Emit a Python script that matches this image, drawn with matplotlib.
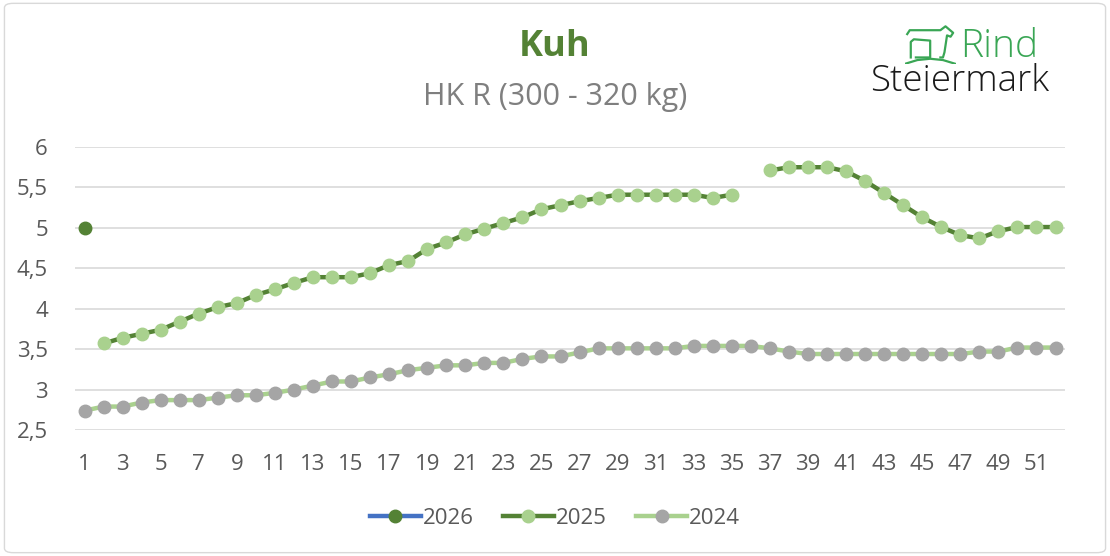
import numpy as np
import matplotlib
matplotlib.use("Agg")
import matplotlib.pyplot as plt
from matplotlib.patches import FancyBboxPatch
from matplotlib.ticker import FuncFormatter

# Wochen und Preise je Jahr (None = kein Wert)
weeks = list(range(1, 53))

price_2026 = [5.00] + [None] * 51

price_2025 = [None, 3.57, 3.64, 3.69, 3.74, 3.84, 3.94, 4.02, 4.07, 4.17,
              4.24, 4.32, 4.39, 4.39, 4.39, 4.44, 4.54, 4.59, 4.74, 4.82,
              4.92, 4.99, 5.06, 5.13, 5.23, 5.28, 5.33, 5.37, 5.41, 5.41,
              5.41, 5.41, 5.41, 5.37, 5.41, None, 5.71, 5.75, 5.75, 5.75,
              5.70, 5.58, 5.43, 5.28, 5.13, 5.01, 4.91, 4.87, 4.96, 5.01,
              5.01, 5.01]

price_2024 = [2.74, 2.79, 2.79, 2.84, 2.87, 2.87, 2.87, 2.90, 2.93, 2.93,
              2.96, 3.00, 3.05, 3.10, 3.10, 3.15, 3.19, 3.24, 3.27, 3.30,
              3.30, 3.33, 3.33, 3.38, 3.41, 3.41, 3.46, 3.51, 3.51, 3.51,
              3.51, 3.51, 3.54, 3.54, 3.54, 3.54, 3.51, 3.47, 3.44, 3.44,
              3.44, 3.44, 3.44, 3.44, 3.44, 3.44, 3.44, 3.47, 3.47, 3.52,
              3.52, 3.52]

y_ticks = [2.5, 3, 3.5, 4, 4.5, 5, 5.5, 6]
x_ticks = list(range(1, 53, 2))

DARK_GREEN = "#548235"
LIGHT_GREEN = "#A9D18E"
GREY = "#A5A5A5"
BLUE = "#4472C4"
TEXT = "#595959"
LOGO_GREEN = "#3AA655"

plt.rcParams['font.family'] = ['Open Sans', 'DejaVu Sans']


def to_arr(values):
    return np.array([np.nan if v is None else v for v in values], dtype=float)


def main():
    fig = plt.figure(figsize=(11.1, 5.56), dpi=100)

    # Rahmen um das Diagramm
    border = FancyBboxPatch((0.004, 0.006), 0.992, 0.988,
                            boxstyle="round,pad=0,rounding_size=0.008",
                            transform=fig.transFigure, facecolor="none",
                            edgecolor="#D9D9D9", linewidth=1.0, zorder=0)
    fig.patches.append(border)

    ax = fig.add_axes([0.0676, 0.2266, 0.8919, 0.509])
    ax.set_facecolor("none")

    ax.plot(weeks, to_arr(price_2024), color=LIGHT_GREEN, linewidth=3.2,
            marker="o", markersize=9, markerfacecolor=GREY,
            markeredgecolor=GREY, label="2024", zorder=3)
    ax.plot(weeks, to_arr(price_2025), color=DARK_GREEN, linewidth=3.2,
            marker="o", markersize=9, markerfacecolor=LIGHT_GREEN,
            markeredgecolor=LIGHT_GREEN, label="2025", zorder=4)
    ax.plot(weeks, to_arr(price_2026), color=BLUE, linewidth=3.2,
            marker="o", markersize=9, markerfacecolor=DARK_GREEN,
            markeredgecolor=DARK_GREEN, label="2026", zorder=5)

    ax.set_xlim(0.5, 52.5)
    ax.set_ylim(2.5, 6)
    ax.set_yticks(y_ticks)
    ax.set_xticks(x_ticks)
    ax.yaxis.set_major_formatter(
        FuncFormatter(lambda v, p: f"{v:g}".replace(".", ",")))
    ax.grid(axis="y", color="#D9D9D9", linewidth=1.2)
    ax.set_axisbelow(True)
    for s in ax.spines.values():
        s.set_visible(False)
    ax.tick_params(length=0, labelsize=16, colors=TEXT)
    ax.tick_params(axis="x", pad=17)
    ax.tick_params(axis="y", pad=19.5)

    # Titel
    fig.text(0.5, 0.916, "Kuh", ha="center", va="center", fontsize=26,
             fontweight="bold", color=DARK_GREEN)
    fig.text(0.5, 0.826, "HK R (300 - 320 kg)", ha="center", va="center",
             fontsize=22, color="#7F7F7F")

    # Logo
    fig.text(0.865, 0.916, "Rind", ha="left", va="center", fontsize=28,
             color=LOGO_GREEN, fontweight="light")
    fig.text(0.784, 0.853, "Steiermark", ha="left", va="center",
             fontsize=26.5, color="#1A1A1A", fontweight="light")
    lx = fig.add_axes([0.815, 0.885, 0.046, 0.07])
    lx.set_xlim(0, 10)
    lx.set_ylim(0, 6)
    lx.axis("off")
    cow_x = [0.5, 1.0, 7.0, 8.0, 9.5, 9.0, 8.3, 7.8, 7.5, 7.0]
    cow_y = [4.6, 5.2, 5.2, 5.8, 4.8, 4.2, 4.4, 1.8, 1.0, 1.0]
    lx.plot(cow_x, cow_y, color=LOGO_GREEN, linewidth=1.6,
            solid_joinstyle="round")
    calf_x = [1.2, 1.2, 1.8, 5.0, 5.0, 2.2]
    calf_y = [1.0, 3.4, 3.8, 3.6, 1.0, 1.0]
    lx.plot(calf_x, calf_y, color=LOGO_GREEN, linewidth=1.6)
    gx = np.array([0.0, 2.5, 5.0, 7.5, 10.0])
    gy = np.array([0.0, 0.6, 0.8, 0.6, 0.0])
    lx.plot(gx, gy, color=LOGO_GREEN, linewidth=1.6)

    # Legende
    handles, labels = ax.get_legend_handles_labels()
    order = [2, 1, 0]
    fig.legend([handles[i] for i in order], [labels[i] for i in order],
               loc="center", bbox_to_anchor=(0.5, 0.067), ncol=3,
               frameon=False, fontsize=16, labelcolor=TEXT,
               handlelength=2.3, handletextpad=0.1, columnspacing=1.3)

    fig.savefig("out.png", dpi=100)


if __name__ == "__main__":
    main()
